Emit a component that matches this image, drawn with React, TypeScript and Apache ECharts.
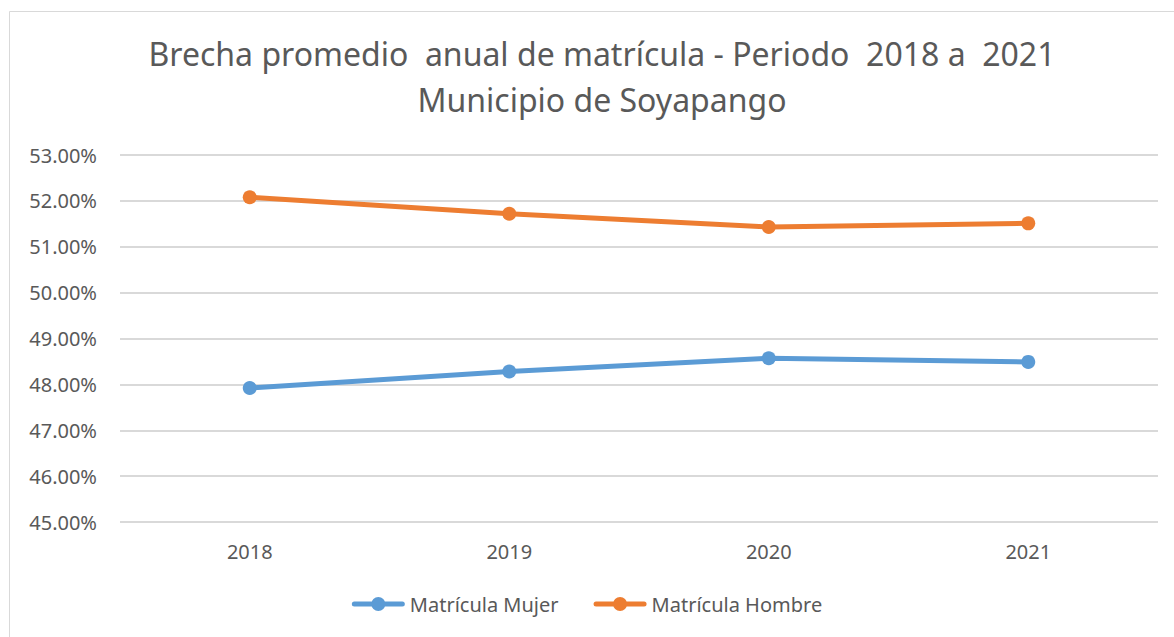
import React, { useEffect, useRef } from "react";
import * as echarts from "echarts";

const years = ["2018", "2019", "2020", "2021"];
const mujer = [47.92, 48.28, 48.57, 48.49];
const hombre = [52.08, 51.72, 51.43, 51.51];
const seriesNames = ["Matrícula Mujer", "Matrícula Hombre"];
const titleLines = [
  "Brecha promedio  anual de matrícula - Periodo  2018 a  2021",
  "Municipio de Soyapango",
];

const FONT = "'Noto Sans', sans-serif";
const TXT = "#595959";
const LEGEND_ICON =
  "path://M2.5,5 H50.5 A2.5,2.5 0 0 1 50.5,10 H2.5 A2.5,2.5 0 0 1 2.5,5 Z " +
  "M19.5,7.5 A7,7 0 1 1 33.5,7.5 A7,7 0 1 1 19.5,7.5 Z";

export default function App() {
  const ref = useRef<HTMLDivElement>(null);
  useEffect(() => {
    if (!ref.current) return;
    const chart = echarts.init(ref.current, undefined, { renderer: "svg" });
    chart.setOption({
      animation: false,
      backgroundColor: "#ffffff",
      textStyle: { fontFamily: FONT },
      title: {
        text: titleLines.join("\n"),
        left: 597,
        top: 25,
        textAlign: "center",
        textStyle: {
          fontFamily: FONT,
          fontSize: 32,
          fontWeight: "normal",
          color: TXT,
          lineHeight: 46,
        },
      },
      graphic: [
        {
          type: "rect",
          shape: { x: 9.5, y: 11.5, width: 1300, height: 800 },
          style: { fill: "none", stroke: "#d9d9d9", lineWidth: 1 },
          silent: true,
        },
      ],
      grid: { left: 120, right: 16, top: 155, bottom: 115 },
      legend: {
        bottom: 18,
        left: "center",
        itemWidth: 53,
        itemHeight: 14,
        itemGap: 35,
        textStyle: { fontFamily: FONT, fontSize: 20, color: TXT },
        data: seriesNames.map((n) => ({ name: n, icon: LEGEND_ICON })),
      },
      xAxis: {
        type: "category",
        data: years,
        boundaryGap: true,
        axisLine: { show: false },
        axisTick: { show: false },
        axisLabel: { color: TXT, fontSize: 20, fontFamily: FONT, margin: 19 },
      },
      yAxis: {
        type: "value",
        min: 45,
        max: 53,
        interval: 1,
        axisLine: { show: false },
        axisTick: { show: false },
        splitLine: { lineStyle: { color: "#d9d9d9", width: 2 } },
        axisLabel: {
          color: TXT,
          fontSize: 20,
          fontFamily: FONT,
          margin: 23,
          formatter: (v: number) => v.toFixed(2) + "%",
        },
      },
      series: [
        {
          name: seriesNames[0],
          type: "line",
          data: mujer,
          symbol: "circle",
          symbolSize: 14,
          color: "#5B9BD5",
          lineStyle: { width: 5, color: "#5B9BD5", cap: "round" },
          itemStyle: { color: "#5B9BD5" },
        },
        {
          name: seriesNames[1],
          type: "line",
          data: hombre,
          symbol: "circle",
          symbolSize: 14,
          color: "#ED7D31",
          lineStyle: { width: 5, color: "#ED7D31", cap: "round" },
          itemStyle: { color: "#ED7D31" },
        },
      ],
    });
    return () => chart.dispose();
  }, []);
  return (
    <div
      ref={ref}
      style={{ position: "absolute", left: 0, top: 0, width: 1174, height: 637 }}
    />
  );
}
